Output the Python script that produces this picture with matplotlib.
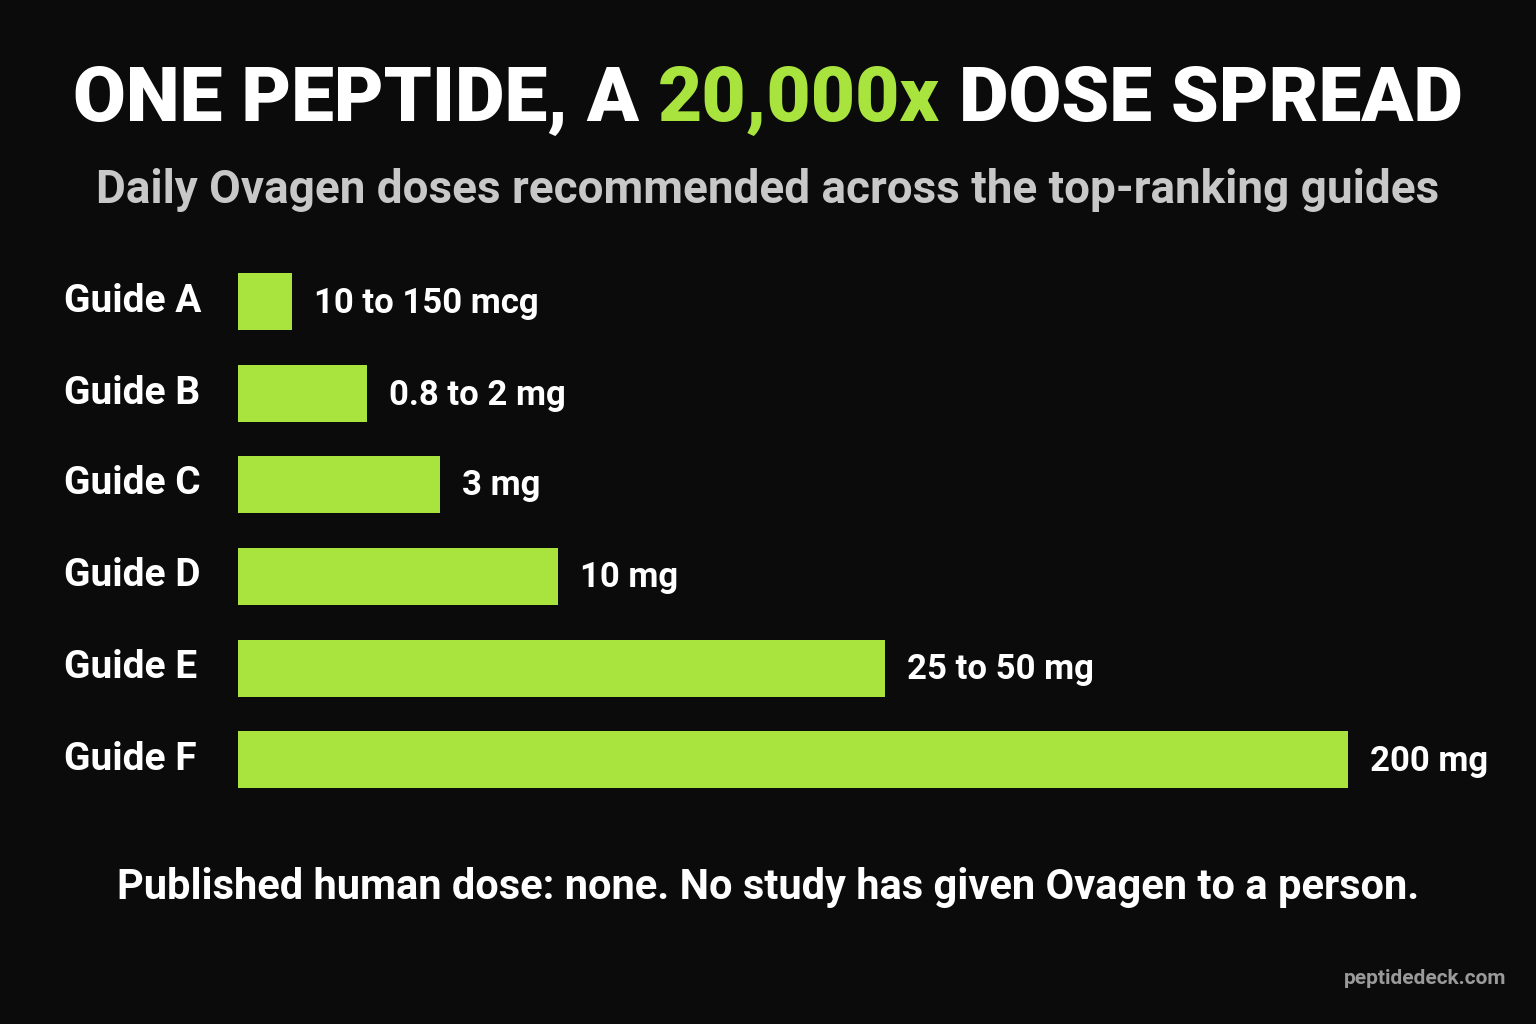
import matplotlib
matplotlib.use("Agg")
import matplotlib.pyplot as plt

guides = ["Guide A", "Guide B", "Guide C", "Guide D", "Guide E", "Guide F"]
bar_lengths = [54, 129, 202, 320, 647, 1110]  # relative visual lengths
dose_labels = ["10 to 150 mcg", "0.8 to 2 mg", "3 mg", "10 mg", "25 to 50 mg", "200 mg"]

BG = "#0b0b0b"
GREEN = "#a8e33e"
W, H = 1536, 1024
fig = plt.figure(figsize=(15.36, 10.24), dpi=100, facecolor=BG)

def ft(x, y, s, **kw):
    fig.text(x / W, 1 - y / H, s, **kw)

fs = 62
tparts = [("ONE PEPTIDE, A ", "white"), ("20,000x", GREEN), (" DOSE SPREAD", "white")]
renderer = fig.canvas.get_renderer()
texts = []
for s, c in tparts:
    t = fig.text(0, 1 - 100 / H, s, color=c, fontsize=fs, fontweight="black",
                 family="Roboto", va="center", ha="left")
    texts.append(t)
widths = [t.get_window_extent(renderer).width for t in texts]
scale = 1390 / sum(widths)
for t in texts:
    t.set_fontsize(fs * scale)
widths = [t.get_window_extent(renderer).width for t in texts]
x = (W - sum(widths)) / 2
for t, w in zip(texts, widths):
    t.set_x(x / W)
    x += w

ft(768, 190, "Daily Ovagen doses recommended across the top-ranking guides",
   color="#c8c8c8", fontsize=33, fontweight="bold", family="Roboto", ha="center", va="center")

ax = fig.add_axes([238 / W, 1 - 810 / H, (W - 238) / W, 560 / H])
ax.set_facecolor(BG)
ax.set_xlim(0, W - 238)
ax.set_ylim(810, 250)
ys = [301, 393, 484, 576, 668, 759]
ax.barh(ys, bar_lengths, height=57, color=GREEN, left=0)
for y, L, lab, g in zip(ys, bar_lengths, dose_labels, guides):
    ax.text(L + 22, y + 2, lab, color="white", fontsize=25, fontweight="bold",
            family="Roboto", va="center", ha="left")
    ft(64, y + 0, g, color="white", fontsize=28, fontweight="bold", family="Roboto",
       va="center", ha="left")
ax.axis("off")

ft(768, 888, "Published human dose: none. No study has given Ovagen to a person.",
   color="white", fontsize=30, fontweight="bold", family="Roboto", ha="center", va="center")
ft(1506, 979, "peptidedeck.com", color="#9a9a9a", fontsize=15, fontweight="bold",
   family="Roboto", ha="right", va="center")

fig.savefig("out.png", dpi=100, facecolor=BG)
